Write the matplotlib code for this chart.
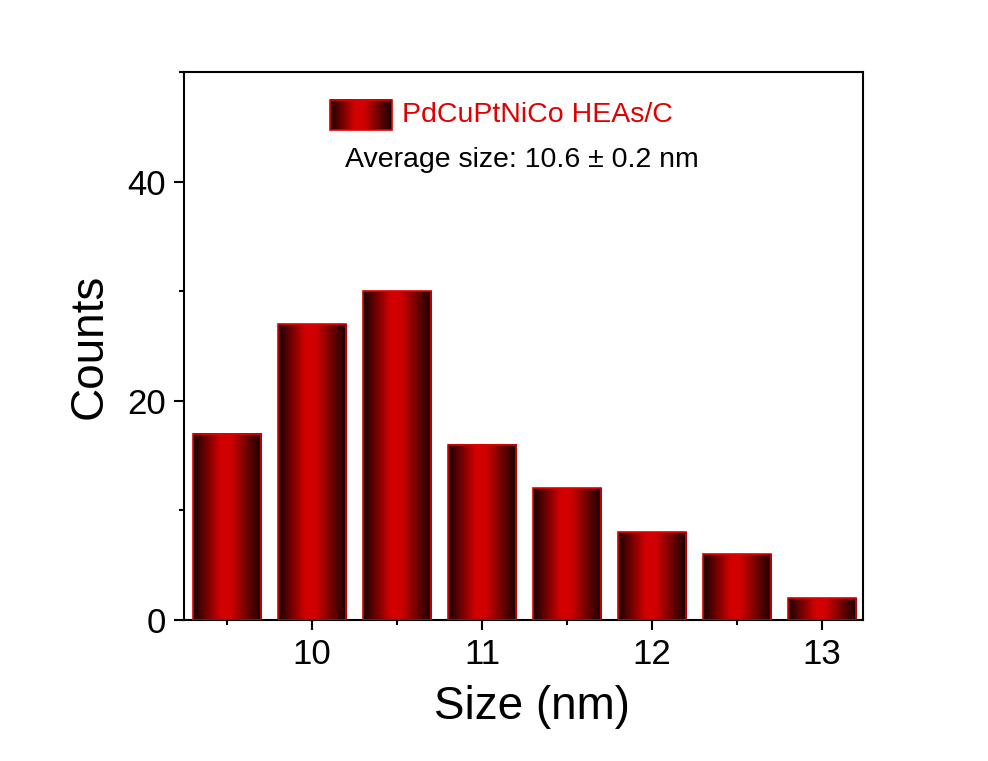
import matplotlib
matplotlib.use("Agg")
import matplotlib.pyplot as plt
import numpy as np
from matplotlib.colors import LinearSegmentedColormap
from matplotlib.patches import Rectangle

plt.rcParams['font.family'] = ['Liberation Sans', 'DejaVu Sans']

sizes = [9.5, 10.0, 10.5, 11.0, 11.5, 12.0, 12.5, 13.0]
counts = [17, 27, 30, 16, 12, 8, 6, 2]
bar_width = 0.4
legend_label = "PdCuPtNiCo HEAs/C"
note = "Average size: 10.6 \u00b1 0.2 nm"

cmap = LinearSegmentedColormap.from_list(
    "grad", [(0.0, "#150000"), (0.4, "#d40000"), (0.55, "#d00000"), (1.0, "#150000")])
grad = np.linspace(0, 1, 256).reshape(1, -1)

fig = plt.figure(figsize=(9.88, 7.61), dpi=100)
ax = fig.add_axes([0.1862, 0.1853, 0.6873, 0.7201])

bars = ax.bar(sizes, counts, width=bar_width, facecolor="none", edgecolor="#e00000",
              linewidth=1.2, zorder=3)
for p in bars:
    x0, y0, w, h = p.get_x(), p.get_y(), p.get_width(), p.get_height()
    ax.imshow(grad, cmap=cmap, extent=(x0, x0 + w, y0, y0 + h), aspect="auto",
              interpolation="bicubic", zorder=2)

ax.set_xlim(9.247, 13.24)
ax.set_ylim(0, 50)
ax.set_xticks([10, 11, 12, 13])
ax.set_xticks([9.5, 10.5, 11.5, 12.5], minor=True)
ax.set_yticks([0, 20, 40])
ax.set_yticks([10, 30, 50], minor=True)
ax.tick_params(axis="both", which="major", direction="out", length=7, width=1.5,
               labelsize=25, top=False, right=False, pad=6)
ax.tick_params(axis="both", which="minor", direction="out", length=3.8, width=1.5,
               top=False, right=False)
for s in ax.spines.values():
    s.set_linewidth(1.5)

ax.set_xlabel("Size (nm)", fontsize=33, labelpad=10)
ax.set_ylabel("Counts", fontsize=33, labelpad=11)
ax.xaxis.label.set_x(0.513)

# legend handle with gradient
lx0, lx1, ly0, ly1 = 0.215, 0.306, 0.894, 0.949
ax.imshow(grad, cmap=cmap, extent=(lx0, lx1, ly0, ly1), aspect="auto",
          interpolation="bicubic", transform=ax.transAxes, zorder=4)
ax.add_patch(Rectangle((lx0, ly0), lx1 - lx0, ly1 - ly0, transform=ax.transAxes,
                       facecolor="none", edgecolor="#e00000", linewidth=1.2, zorder=5))
ax.text(0.321, 0.9215, legend_label, transform=ax.transAxes, color="#e00000",
        fontsize=20.5, va="center", ha="left")
ax.text(0.497, 0.839, note, transform=ax.transAxes, color="black",
        fontsize=20.5, va="center", ha="center")

ax.set_xlim(9.247, 13.24)
ax.set_ylim(0, 50)

fig.savefig("out.png", dpi=100)
